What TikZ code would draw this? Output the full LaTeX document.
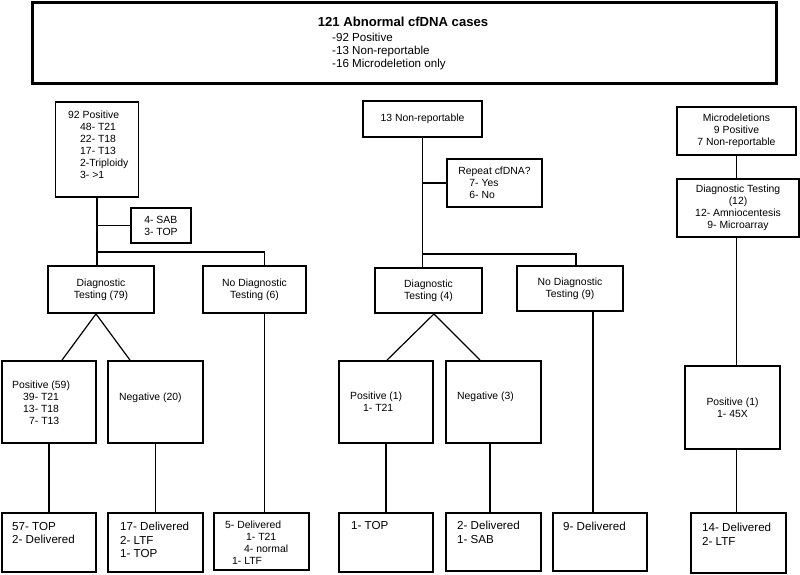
\documentclass[tikz,border=0pt]{standalone}
\usepackage{fontspec}
\setmainfont{Liberation Sans}
\begin{document}
\begin{tikzpicture}[x=1pt,y=-1pt,
    box/.style={draw,line width=1.8pt,inner sep=0pt,align=center,font=\fontsize{10.4}{12}\selectfont},
    txt/.style={inner sep=0pt,anchor=north west,align=left,font=\fontsize{10.4}{12}\selectfont},
    big/.style={txt,font=\fontsize{11.6}{13.7}\selectfont},
    line/.style={line width=1.2pt}]
  \useasboundingbox (0,0) rectangle (800,574);
  \node[box,line width=3pt,minimum width=744pt,minimum height=81pt] (total) at (404,42.5) {};
  \node[inner sep=0pt,font=\bfseries\fontsize{13.1}{15}\selectfont] (title) at (403,21.7) {121 Abnormal cfDNA cases};
  \node[txt,font=\fontsize{11.6}{13.3}\selectfont] (list) at (332,32.5) {-92 Positive\\-13 Non-reportable\\-16 Microdeletion only};

  \node[box,minimum width=83pt,minimum height=95pt] (pos92) at (97,149.5) {};
  \node[txt] (pos92t) at (68,110.3) {92 Positive\\\hspace*{12pt}48- T21\\\hspace*{12pt}22- T18\\\hspace*{12pt}17- T13\\\hspace*{12pt}2-Triploidy\\\hspace*{12pt}3- >1};
  \node[box,align=left,minimum width=60pt,minimum height=35pt] (sab) at (161,225.5) {4- SAB\\3- TOP};
  \node[box,minimum width=106pt,minimum height=47pt] (diag79) at (101,289.5) {Diagnostic\\Testing (79)};
  \node[box,minimum width=103pt,minimum height=47pt] (nodiag6) at (254.5,289.5) {No Diagnostic\\Testing (6)};
  \node[box,minimum width=94pt,minimum height=82pt] (pos59) at (49,402) {};
  \node[txt] (pos59t) at (12,381.2) {Positive (59)\\\hspace*{11pt}39- T21\\\hspace*{11pt}13- T18\\\hspace*{17pt}7- T13};
  \node[box,minimum width=95pt,minimum height=82pt] (neg20) at (155.5,402) {};
  \node[txt] (neg20t) at (119,392.9) {Negative (20)};
  \node[box,minimum width=94pt,minimum height=59pt] (b57) at (49,542.5) {};
  \node[big] (b57t) at (12,521.8) {57- TOP\\2- Delivered};
  \node[box,minimum width=95pt,minimum height=59pt] (b17) at (155.5,542.5) {};
  \node[big] (b17t) at (120,521.8) {17- Delivered\\2- LTF\\1- TOP};
  \node[box,minimum width=95pt,minimum height=57pt] (b5) at (261.5,541.5) {};
  \node[txt] (b5t) at (225,521.2) {5- Delivered\\\hspace*{21pt}1- T21\\\hspace*{19pt}4- normal\\\hspace*{7pt}1- LTF};

  \draw[line] (pos92.south) -- (pos92.south |- diag79.north);
  \draw[line] (pos92.south |- sab.west) -- (sab.west);
  \coordinate (fork1) at (pos92.south |- 0,252);
  \draw[line] (fork1) -| ([xshift=10pt]nodiag6.north);
  \draw[line] ([xshift=13pt]pos59.north) -- ([xshift=-5pt]diag79.south) -- ([xshift=-25.5pt]neg20.north);
  \draw[line] (pos59.south) -- (b57.north);
  \draw[line] (neg20.south) -- (b17.north);
  \draw[line] ([xshift=10pt]nodiag6.south) -- ([xshift=3pt]b5.north);

  \node[box,minimum width=119pt,minimum height=36pt] (nonrep) at (422.5,119) {13 Non-reportable};
  \node[box,align=left,minimum width=95pt,minimum height=48pt] (repeat) at (494.5,183) {Repeat cfDNA?\\\hspace*{11pt}7- Yes\\\hspace*{11pt}6- No};
  \node[box,minimum width=107pt,minimum height=45pt] (diag4) at (428.5,290.5) {Diagnostic\\Testing (4)};
  \node[box,minimum width=106pt,minimum height=45pt] (nodiag9) at (570,288.5) {No Diagnostic\\Testing (9)};
  \node[box,minimum width=94pt,minimum height=82pt] (pos1) at (386,402) {};
  \node[txt] (pos1t) at (350,392.2) {Positive (1)\\\hspace*{13pt}1- T21};
  \node[box,minimum width=95pt,minimum height=82pt] (neg3) at (493.5,402) {};
  \node[txt] (neg3t) at (457,392.2) {Negative (3)};
  \node[box,minimum width=94pt,minimum height=59pt] (b1top) at (386,542.5) {};
  \node[big] (b1topt) at (351,520.8) {1- TOP};
  \node[box,minimum width=95pt,minimum height=58pt] (b2del) at (493.5,542) {};
  \node[big] (b2delt) at (457,520.8) {2- Delivered\\1- SAB};
  \node[box,minimum width=94pt,minimum height=58pt] (b9) at (600,542) {};
  \node[big] (b9t) at (563,521.8) {9- Delivered};

  \draw[line] (nonrep.south) -- (nonrep.south |- diag4.north);
  \draw[line] (nonrep.south |- repeat.west) -- (repeat.west);
  \coordinate (fork2) at (nonrep.south |- 0,254);
  \draw[line] (fork2) -| ([xshift=6pt]nodiag9.north);
  \draw[line] ([xshift=1pt]pos1.north) -- ([xshift=5.5pt]diag4.south) -- ([xshift=-13.5pt]neg3.north);
  \draw[line] (pos1.south) -- (b1top.north);
  \draw[line] ([xshift=-3.5pt]neg3.south) -- ([xshift=-3.5pt]b2del.north);
  \draw[line] ([xshift=23pt]nodiag9.south) -- ([xshift=-7pt]b9.north);

  \node[box,minimum width=119pt,minimum height=48pt] (micro) at (736.5,131) {Microdeletions\\9 Positive\\7 Non-reportable};
  \node[box,minimum width=122pt,minimum height=58pt] (diag12) at (738,208) {Diagnostic Testing\\(12)\\12- Amniocentesis\\9- Microarray};
  \node[box,minimum width=95pt,minimum height=83pt] (pos45) at (732.5,407.5) {Positive (1)\\1- 45X};
  \node[box,minimum width=95pt,minimum height=60pt] (b14) at (738.5,543) {};
  \node[big] (b14t) at (702,522.8) {14- Delivered\\2- LTF};

  \draw[line] (micro.south) -- (micro.south |- diag12.north);
  \draw[line] (micro.south |- diag12.south) -- (micro.south |- pos45.north);
  \draw[line] (micro.south |- pos45.south) -- (micro.south |- b14.north);
\end{tikzpicture}
\end{document}
